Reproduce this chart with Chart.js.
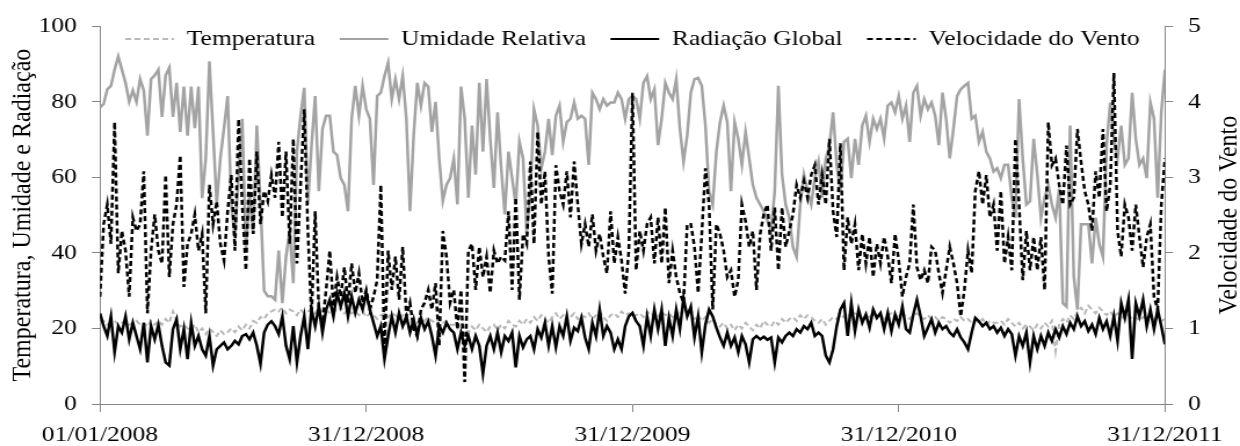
<!DOCTYPE html>
<html>
<head>
<meta charset="utf-8">
<script src="https://cdn.jsdelivr.net/npm/chart.js@4.4.1/dist/chart.umd.min.js"></script>
<style>
html,body{margin:0;padding:0;background:#fff;overflow:hidden;width:1240px;height:446px}
#wrap{width:1069px;height:446px;transform:scaleX(1.15996);transform-origin:0 0}
canvas{display:block}
</style>
</head>
<body>
<div id="wrap"><canvas id="c" width="1069" height="446"></canvas></div>
<script>
// ---- data (one value every 5 days from 01/01/2008 to 31/12/2011) ----
const tickDays = [0, 365, 730, 1095, 1460];
const tickLabels = ['01/01/2008', '31/12/2008', '31/12/2009', '31/12/2010', '31/12/2011'];
const seriesNames = ['Temperatura', 'Umidade Relativa', 'Radiação Global', 'Velocidade do Vento'];
const leftAxisTitle = 'Temperatura, Umidade e Radiação';
const rightAxisTitle = 'Velocidade do Vento';

const temperatura = [
21.5,22,21,21.5,22,21,21.5,22,21,21.5,
22,21,21.5,20.5,22,21,22,21,22.5,21.5,
24.5,22,20.5,21,20,19.5,21,19,20,18.5,
20,19,18,19.5,18.5,19,20,19,20.5,19.5,
21,20,22,21.5,23,22.5,24,24.5,
25,24.5,25.5,24,25,24.5,23.5,25,24,24.5,
25,24,25.5,24.5,25,24,25,24.5,25.5,24,
25,24,24.5,23.5,24.5,23,24,23.5,22.5,23.5,
24,23,24,23.5,22.5,23.5,22,23,22.5,21.5,
22.5,22,23,22,21.5,22.5,21.5,22,21,
21,20,21.5,20,19,20.5,19.5,21,20,19,
20.5,21,19.5,21,20,22,21,20.5,22,21,
22.5,21.5,23,22,23.5,22.5,21.5,23,24,22.5,
23.5,22,23,24,22.5,23.5,23,24,22.5,23.5,
24.5,23,22,23.5,24,23,24.5,23.5,24,23,
23.5,24,23,24.5,23.5,24,23,24.5,23.5,24,
23,24.5,23.5,25,24,23.5,22.5,23.5,22,23,
21.5,22.5,21,20.5,21.5,20,21,19.5,21,20,
21.5,20.5,19.5,21,20,22,21,20.5,22,21,
22.5,21.5,22.5,23,22,23.5,22.5,23.5,23,
22,21.5,22.5,21,22,23,22.5,23.5,23,24,
23,24,23.5,22.5,23.5,23,24,23,23.5,22.5,
23.5,24,23,23.5,24,23,22.5,23.5,24,23,
22.5,23.5,22.5,23,22,23,22.5,21.5,22.5,22,
23,22,22.5,21.5,22,21.5,22.5,21,22,21.5,
21.5,22,21,22.5,21.5,20.5,21.5,20,21,20.5,
19.5,21,20,21.5,20.5,22,14,21,22.5,21.5,
23.5,22.5,24.5,25.5,24,26,25,24,25.5,24.5,
23.5,24.5,23,24,23.5,22.5,23.5,22.5,23,22,
23,22.5,23.5,22.5,23,22,22.5
];

const umidade = [
78.5,79.4,83.3,84.2,88.5,92,88.5,85,80,83,
80,86,83,71,86,87,88.5,76,87,89,
76,85,72,84,71,84,73,84,54.5,65,
90.7,72,53,65,73,81.5,53,44,60.7,75.5,
40.6,56,45,73.7,53,30,28.5,28.5,
27.6,40.6,26.7,38.9,45.9,32,66.8,76.3,83.7,52.8,
68.5,81.5,56.3,72.8,76.3,76.3,66.8,65.9,59.8,58,
51,75.5,84.2,76.3,84.2,78,75.5,58,81.5,82.4,
86.8,90.3,80.7,86,80.7,86.8,75.5,51,71,85,
79,85,84,72,80,65,53.7,58,59.8,
65,52.8,84,75.5,54.6,73.7,60.7,85,66.8,86,
70.2,57.2,77.2,62.4,50.2,66.8,59.8,52.8,69.4,65,
45,56.3,78,73.7,62.4,66.8,75.5,65.9,76.3,79,
69.4,74.6,75.5,79.8,75.5,76.3,75.5,63.3,82.4,80.7,
78,80.7,79,79.8,79.8,82.4,80.7,75.5,80.7,81.5,
80.7,75.5,85,86.8,80.7,83.3,68.5,75.5,85,82.4,
80.7,86,72.8,64.1,71.1,82.4,86,86.3,84.2,73.7,
56.3,52.8,66.8,74.6,79,74.6,56.3,74.6,70.2,63.3,
72,65,58,54.6,52.8,51,48.5,45.9,56.3,84.2,
60.7,52.8,49.3,41.5,38.9,52.8,60.7,56.3,52.8,
59.8,64.1,54.6,65,68.5,77.2,63.3,56.3,69.4,70.2,
59.8,70.2,63.3,73.7,76.3,69.4,75.5,72.8,75.5,70.2,
79,79.8,77.2,81.5,75.5,79,69.4,82.4,84.2,76.3,
80.7,78,79.8,76.3,68.5,82.4,75.5,65,72.8,81.5,
83.3,84.2,85,75.5,76.3,69.4,72,66.8,65,61.5,
62.4,59.8,63.3,63.3,54.6,49.3,80.7,65,52.8,53.7,
70.2,60.7,49.3,54.6,58,52.8,49.3,57,26.7,25.8,
73.7,33.7,25,47.6,47.6,47.6,37.2,49.3,42.4,38.9,
68.5,79.8,70.2,65,73.7,63.3,65,82.4,70.2,63.3,
65,59.8,79.8,75.5,54.6,77.2,88.5
];

const radiacao = [
24,20.6,18,23.2,13.7,20.6,18.9,23.2,17.1,21.5,
18,14.5,21.5,11,20.6,17.1,21,15.4,11,10.2,
19.8,22.4,14.5,19.8,11.9,21.5,15.4,18,14.5,12.8,
18,10.2,14.5,15.4,16.3,14.5,15.4,16.7,15.8,18,
18.5,17.1,18.9,15.4,10.6,18.9,21,21.9,
20.6,18.5,23.2,15.4,11.9,20.6,11,18,23.2,14.5,
25,20.6,25.8,18.9,25,27.6,23.2,29.3,25.8,29.3,
23.2,28.5,24.1,27.6,25,29.3,25,21.5,18,20.6,
11.9,18,23.2,18.9,24.1,20.6,23.2,18.9,22.4,18,
22.8,19.8,21.9,18,12.8,20.6,18.9,21.5,19.8,
18.9,14.5,18.9,15.4,18,14.5,18,15.4,8,15.4,
18,14.5,18.9,13.7,18,16.7,18.9,9.7,18,15,
17.1,18,14.5,19.8,17.6,21.5,15.4,20.6,15,20.6,
18,23.2,16.7,20.2,19.3,22.8,17.6,14.5,21.5,18,
25,18,20.6,18.9,14.5,17.1,14.5,20.6,23.2,24.1,
21.9,20.6,15.4,23.2,18,25,19.8,25,15.4,22.8,
18,25,19.8,28,23.2,25.8,17.6,23.2,13.7,21,
25,23.2,20.2,17.6,15.4,18.9,15.4,17.6,13.7,18,
15.8,11,17.1,18,17.1,17.8,17,17.6,11,17.6,
16.3,18,18.9,18,19.8,18.9,20.6,19.8,21.5,
18,18.9,18,12.8,11,14.5,20.6,25,26.7,18,
26.7,19.3,25,21.5,23.7,20.2,25,22.8,24.1,19.8,
24.1,19.3,23.7,21,25.8,19.8,18.9,23.7,27.6,23.2,
18,20.2,22.4,18.9,21.5,19.8,20.6,18.9,18,19.8,
17.6,16.3,14.5,18.9,22.8,21.9,20.6,21.5,19.8,20.6,
18.9,20.2,18,19.8,18.5,12.8,18,15.4,18.9,11,
18,14.5,18,15.4,18.9,16.7,19.8,17.6,20.6,18.5,
21.5,19.8,23.2,20.6,21.9,19.3,21,18.5,22.8,19.8,
21.9,18,23.2,16.7,26.7,22.8,27.6,11.9,26.7,23.2,
27.6,20.6,25,19.8,25,20.6,15.8
];

const vento = [
1.42,2.38,2.64,2.12,3.73,1.73,2.29,2.03,1.42,2.47,
2.29,2.38,3.08,1.2,2.03,2.51,2.03,1.86,3.03,1.68,
2.38,2.64,3.29,1.55,2.12,2.25,2.51,2.03,2.25,1.2,
2.9,2.38,2.68,2.12,1.9,2.55,3.03,2.03,3.77,2.64,
1.77,3.25,2.25,3.34,2.38,2.82,2.68,3.03,
2.73,3.47,2.47,3.34,2.12,3.51,1.86,2.9,3.9,2.29,
1.16,2.55,1.25,1.07,1.51,2.03,1.29,1.68,1.42,1.81,
1.34,1.86,1.47,1.73,1.34,1.51,1.25,1.42,1.64,2.9,
0.73,2.03,1.51,1.95,1.38,2.08,1.16,1.34,0.99,0.9,
1.25,1.34,1.51,1.25,1.6,0.77,2.29,1.95,1.34,
1.51,0.99,1.51,0.29,2.03,2.12,1.51,2.08,1.68,1.95,
1.47,2.03,1.86,1.95,1.9,2.55,1.51,2.73,1.38,2.25,
2.12,3.21,2.12,3.6,2.64,3.08,1.95,1.46,3.16,2.82,
2.64,3.08,2.47,3.21,2.64,2.12,2.38,2.08,2.51,2.03,
2.25,1.95,1.73,2.55,1.86,2.21,1.9,1.46,2.03,4.12,
1.77,2.29,2.03,2.38,2.47,1.86,2.47,1.86,2.6,1.6,
2.03,1.68,1.47,1.34,2.38,2.38,2.08,1.47,2.25,3.12,
2.64,1.25,2.38,2.25,2.03,1.68,1.77,1.42,1.64,2.64,
2.42,2.08,2.29,1.51,2.25,2.51,2.64,2.03,2.6,1.77,
2.6,2.08,2.29,2.51,2.9,2.73,2.95,2.73,3.03,
3.16,2.64,3.03,2.64,3.51,2.55,2.21,3.45,1.77,2.47,
2.12,2.38,1.77,2.25,1.86,2.21,1.68,2.12,1.86,2.21,
1.95,1.6,2.25,1.9,1.42,1.68,1.86,2.64,1.81,1.64,
1.77,1.6,2.08,2.03,1.73,1.47,1.77,2.08,1.86,1.6,
1.16,1.51,2.03,1.73,2.82,3.08,2.64,3.03,2.47,2.64,
2.03,2.82,1.86,2.21,1.77,3.51,2.64,1.64,2.29,1.77,
2.21,1.77,2.21,1.51,3.73,3.16,3.25,2.9,2.64,3.42,
2.64,2.73,3.64,3.2,2.82,2.64,2.29,3.08,2.73,3.64,
2.55,2.9,4.38,2.29,1.95,2.64,2.47,2.03,2.64,2.21,
1.81,2.21,2.38,1.42,1.25,2.64,3.25
];

const stepDays = 5;
const days = umidade.map((_, i) => i * stepDays);
const toPts = arr => arr.map((v, i) => ({ x: days[i], y: v }));

const FONT = "'Liberation Serif', 'Times New Roman', serif";
const AXIS = '#868686';

const legendFix = {
  id: 'legendFix',
  afterInit(chart) {
    const lg = chart.legend;
    if (!lg) return;
    const fit = lg.fit.bind(lg);
    lg.fit = function () { fit(); this.height = 0; };
  },
  afterLayout(chart) {
    const lg = chart.legend;
    if (!lg) return;
    lg.left = chart.chartArea.left;
    lg.right = chart.chartArea.right;
    lg.top = 7;
    lg.bottom = 60;
  }
};

const rightTitle = {
  id: 'rightTitle',
  afterDraw(chart) {
    const s = chart.scales.y1;
    const ctx = chart.ctx;
    ctx.save();
    ctx.translate(s.right - 9.5, (s.top + s.bottom) / 2);
    ctx.rotate(-Math.PI / 2);
    ctx.font = '24px ' + FONT;
    ctx.fillStyle = '#000';
    ctx.textAlign = 'center';
    ctx.textBaseline = 'middle';
    ctx.fillText(rightAxisTitle, 0, 0);
    ctx.restore();
  }
};

new Chart(document.getElementById('c'), {
  type: 'line',
  data: {
    datasets: [
      { label: seriesNames[0], data: toPts(temperatura), yAxisID: 'y', borderColor: '#b8b8b8', borderWidth: 2, borderDash: [5, 3], order: 4 },
      { label: seriesNames[1], data: toPts(umidade), yAxisID: 'y', borderColor: '#a3a3a3', borderWidth: 2.5, order: 3 },
      { label: seriesNames[2], data: toPts(radiacao), yAxisID: 'y', borderColor: '#000000', borderWidth: 2.5, order: 2 },
      { label: seriesNames[3], data: toPts(vento), yAxisID: 'y1', borderColor: '#000000', borderWidth: 2.5, borderDash: [5, 3], order: 1 }
    ]
  },
  options: {
    responsive: false,
    devicePixelRatio: 1,
    animation: false,
    events: [],
    elements: { point: { radius: 0 }, line: { tension: 0, fill: false, borderCapStyle: 'butt' } },
    layout: { padding: { top: 21, left: 0, right: 0, bottom: 0 } },
    plugins: {
      tooltip: { enabled: false },
      legend: {
        display: true,
        position: 'top',
        fullSize: true,
        align: 'center',
        labels: {
          usePointStyle: true,
          pointStyle: 'line',
          pointStyleWidth: 42,
          boxHeight: 22,
          padding: 21,
          color: '#000',
          font: { family: FONT, size: 22 },
          generateLabels: chart => chart.data.datasets.map((ds, i) => ({
            text: ds.label,
            datasetIndex: i,
            strokeStyle: ds.borderColor,
            fillStyle: ds.borderColor,
            fontColor: '#000',
            lineWidth: 2,
            lineDash: ds.borderDash || [],
            lineCap: 'butt',
            pointStyle: 'line',
            hidden: false
          }))
        }
      }
    },
    scales: {
      x: {
        type: 'linear',
        min: 0,
        max: 1460,
        afterBuildTicks: s => { s.ticks = tickDays.map(v => ({ value: v })); },
        afterFit: s => { s.height = 42; },
        grid: { display: true, drawOnChartArea: false, drawTicks: true, tickLength: 8, color: AXIS },
        border: { display: true, color: AXIS, width: 1 },
        ticks: {
          autoSkip: false, maxRotation: 0, minRotation: 0, padding: 10, color: '#000',
          font: { family: FONT, size: 22 },
          callback: v => { const k = tickDays.indexOf(v); return k >= 0 ? tickLabels[k] : ''; }
        }
      },
      y: {
        position: 'left',
        min: 0, max: 100,
        afterFit: s => { s.width = 86.2; },
        grid: { display: true, drawOnChartArea: false, drawTicks: true, tickLength: 7, color: AXIS },
        border: { display: true, color: AXIS, width: 1 },
        ticks: { stepSize: 20, padding: 13, color: '#000', font: { family: FONT, size: 22 } },
        title: { display: true, text: leftAxisTitle, color: '#000', padding: { top: 10, bottom: 0 }, font: { family: FONT, size: 24, lineHeight: 0.8 } }
      },
      y1: {
        position: 'right',
        min: 0, max: 5,
        afterFit: s => { s.width = 64.7; },
        grid: { display: true, drawOnChartArea: false, drawTicks: true, tickLength: 7, color: AXIS },
        border: { display: true, color: AXIS, width: 1 },
        ticks: { stepSize: 1, padding: 13, color: '#000', font: { family: FONT, size: 22 } }
      }
    }
  },
  plugins: [legendFix, rightTitle]
});
</script>
</body>
</html>
